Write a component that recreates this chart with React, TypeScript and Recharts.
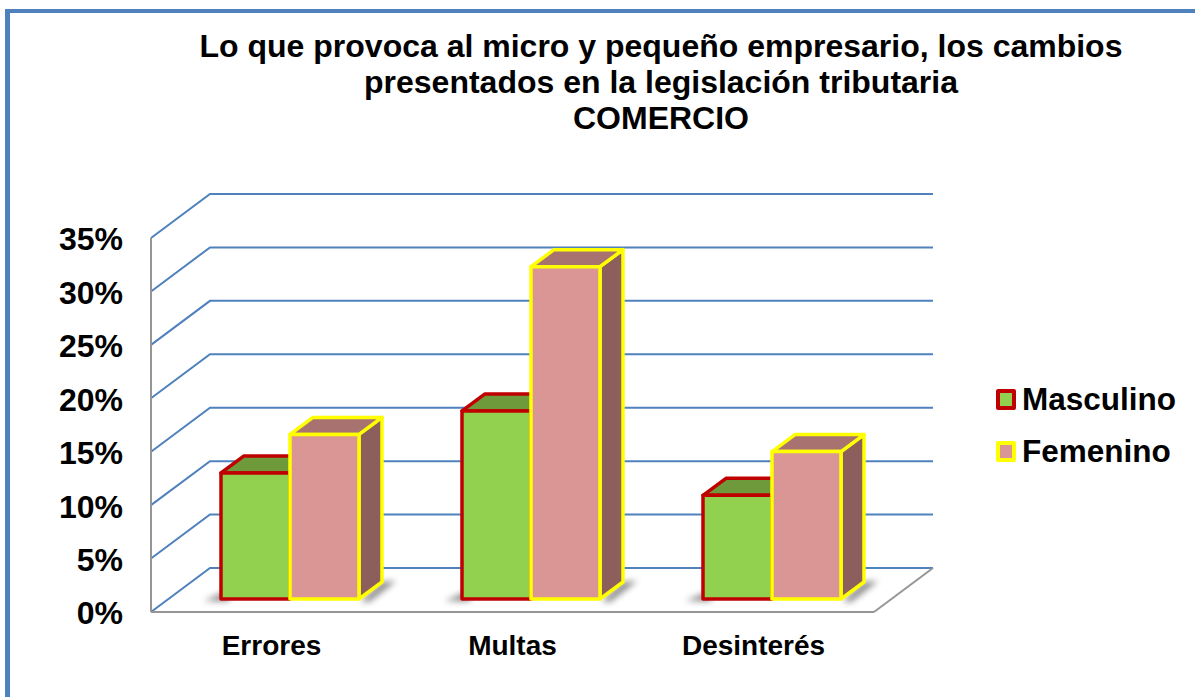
import { Bar, BarChart, CartesianGrid, Legend, XAxis, YAxis } from "recharts";

const categories = ["Errores", "Multas", "Desinterés"];
const seriesNames = ["Masculino", "Femenino"];
const masculino = [0.118, 0.176, 0.097];
const femenino = [0.154, 0.311, 0.138];
const yTicks = [0, 0.05, 0.1, 0.15, 0.2, 0.25, 0.3, 0.35];
const titleLines = [
  "Lo que provoca al micro y pequeño empresario, los cambios",
  "presentados en la legislación tributaria",
  "COMERCIO",
];

const data = categories.map((name, i) => ({
  name,
  Masculino: masculino[i],
  Femenino: femenino[i],
}));

const FONT = "'Liberation Sans', Arial, sans-serif";
const BLUE = "#4F81BD";
const GREY = "#969696";

// depth of the fake 3d walls and of the boxes standing on the floor
const WALL_DX = 59;
const WALL_DY = 44;
const BOX_DX = 23;
const BOX_DY = 17;
const FLOOR_DX = 18;
const FLOOR_DY = 13;

const masculinoStyle = { front: "#92D050", top: "#6F9A3C", side: "#5F8A30", edge: "#C00000" };
const femeninoStyle = { front: "#D99694", top: "#A87270", side: "#8C5F5D", edge: "#FFFF00" };
const looks: any = { Masculino: masculinoStyle, Femenino: femeninoStyle };

function Box3D(props: any) {
  const { x, y, width, height, look, shadowSide } = props;
  const left = x + FLOOR_DX;
  const right = left + width;
  const top = y - FLOOR_DY;
  const bottom = y + height - FLOOR_DY;
  const topFace = `${left},${top} ${left + BOX_DX},${top - BOX_DY} ${right + BOX_DX},${top - BOX_DY} ${right},${top}`;
  const sideFace = `${right},${top} ${right + BOX_DX},${top - BOX_DY} ${right + BOX_DX},${bottom - BOX_DY} ${right},${bottom}`;
  const shadow =
    shadowSide === "left"
      ? `${left - 17},${bottom + 2} ${left + 8},${bottom - 9} ${left + 8},${bottom + 2}`
      : `${right + 2},${bottom + 2} ${right + BOX_DX},${bottom - BOX_DY} ${right + BOX_DX + 14},${bottom - BOX_DY - 1} ${right + 10},${bottom + 3}`;
  return (
    <g>
      <polygon points={shadow} fill="#555" opacity={0.7} filter="url(#soft)" />
      <polygon points={sideFace} fill={look.side} stroke={look.edge} strokeWidth={3.5} strokeLinejoin="round" />
      <polygon points={topFace} fill={look.top} stroke={look.edge} strokeWidth={3.5} strokeLinejoin="round" />
      <rect x={left} y={top} width={width} height={height} fill={look.front} stroke={look.edge} strokeWidth={3.5} strokeLinejoin="round" />
    </g>
  );
}

// every gridline runs up the side wall and then along the back wall
function WallLine(props: any) {
  const { x1, x2, y1 } = props;
  return (
    <path
      d={`M${x1},${y1} L${x1 + WALL_DX},${y1 - WALL_DY} L${x2 + WALL_DX},${y1 - WALL_DY}`}
      fill="none"
      stroke={BLUE}
      strokeWidth={2}
    />
  );
}

function FloorEdge(props: any) {
  const { x2, y1 } = props;
  return (
    <g>
      <WallLine {...props} />
      {y1 > 600 && (
        <path
          d={`M${x2},${y1} L${x2 + WALL_DX},${y1 - WALL_DY}`}
          fill="none"
          stroke={GREY}
          strokeWidth={2}
        />
      )}
    </g>
  );
}

function LegendBox() {
  return (
    <div style={{ fontFamily: FONT, fontWeight: 700, fontSize: 31.5, color: "#000" }}>
      {seriesNames.map((name) => (
        <div key={name} style={{ display: "flex", alignItems: "center", height: 52 }}>
          <span
            style={{
              boxSizing: "border-box",
              width: 20,
              height: 21,
              background: looks[name].front,
              border: `4px solid ${looks[name].edge}`,
              borderRadius: 2,
              marginRight: 6,
            }}
          />
          {name}
        </div>
      ))}
    </div>
  );
}

export default function App() {
  return (
    <div style={{ position: "fixed", left: 0, top: 0, width: 1195, height: 697, background: "#fff", overflow: "hidden" }}>
      <div style={{ position: "absolute", left: 5, top: 9, right: -10, bottom: -10, borderLeft: `5px solid ${BLUE}`, borderTop: `4px solid ${BLUE}` }} />
      <div
        style={{
          position: "absolute",
          left: 161,
          top: 28,
          width: 1000,
          textAlign: "center",
          fontFamily: FONT,
          fontWeight: 700,
          fontSize: 32,
          lineHeight: "36px",
          color: "#000",
        }}
      >
        {titleLines.map((line) => (
          <div key={line}>{line}</div>
        ))}
      </div>
      <div style={{ position: "absolute", left: 0, top: 0 }}>
        <BarChart
          width={1195}
          height={697}
          data={data}
          margin={{ top: 238, right: 122, bottom: 0, left: 0 }}
          barSize={69}
          barGap={0}
        >
          <defs>
            <filter id="soft" x="-50%" y="-50%" width="200%" height="200%">
              <feGaussianBlur stdDeviation="3" />
            </filter>
          </defs>
          <CartesianGrid vertical={false} horizontal={(p: any) => <FloorEdge key={p.key} {...p} />} />
          <XAxis
            dataKey="name"
            height={85}
            interval={0}
            tickLine={false}
            axisLine={{ stroke: GREY, strokeWidth: 2 }}
            tickMargin={17}
            tick={{ fill: "#000", fontSize: 28, fontWeight: 700, fontFamily: FONT }}
          />
          <YAxis
            width={151}
            domain={[0, 0.35]}
            ticks={yTicks}
            interval={0}
            tickFormatter={(v: number) => `${Math.round(v * 100)}%`}
            tickLine={false}
            axisLine={{ stroke: GREY, strokeWidth: 2 }}
            tickMargin={22}
            tick={{ fill: "#000", fontSize: 32, fontWeight: 700, fontFamily: FONT, dy: 1 }}
          />
          <Legend
            layout="vertical"
            align="right"
            verticalAlign="top"
            content={<LegendBox />}
            wrapperStyle={{ position: "absolute", left: 996, top: 373, width: 199, right: "auto", bottom: "auto" }}
          />
          <Bar
            dataKey="Masculino"
            fill={masculinoStyle.front}
            isAnimationActive={false}
            shape={(p: any) => <Box3D {...p} look={masculinoStyle} shadowSide="left" />}
          />
          <Bar
            dataKey="Femenino"
            fill={femeninoStyle.front}
            isAnimationActive={false}
            shape={(p: any) => <Box3D {...p} look={femeninoStyle} shadowSide="right" />}
          />
        </BarChart>
      </div>
    </div>
  );
}
